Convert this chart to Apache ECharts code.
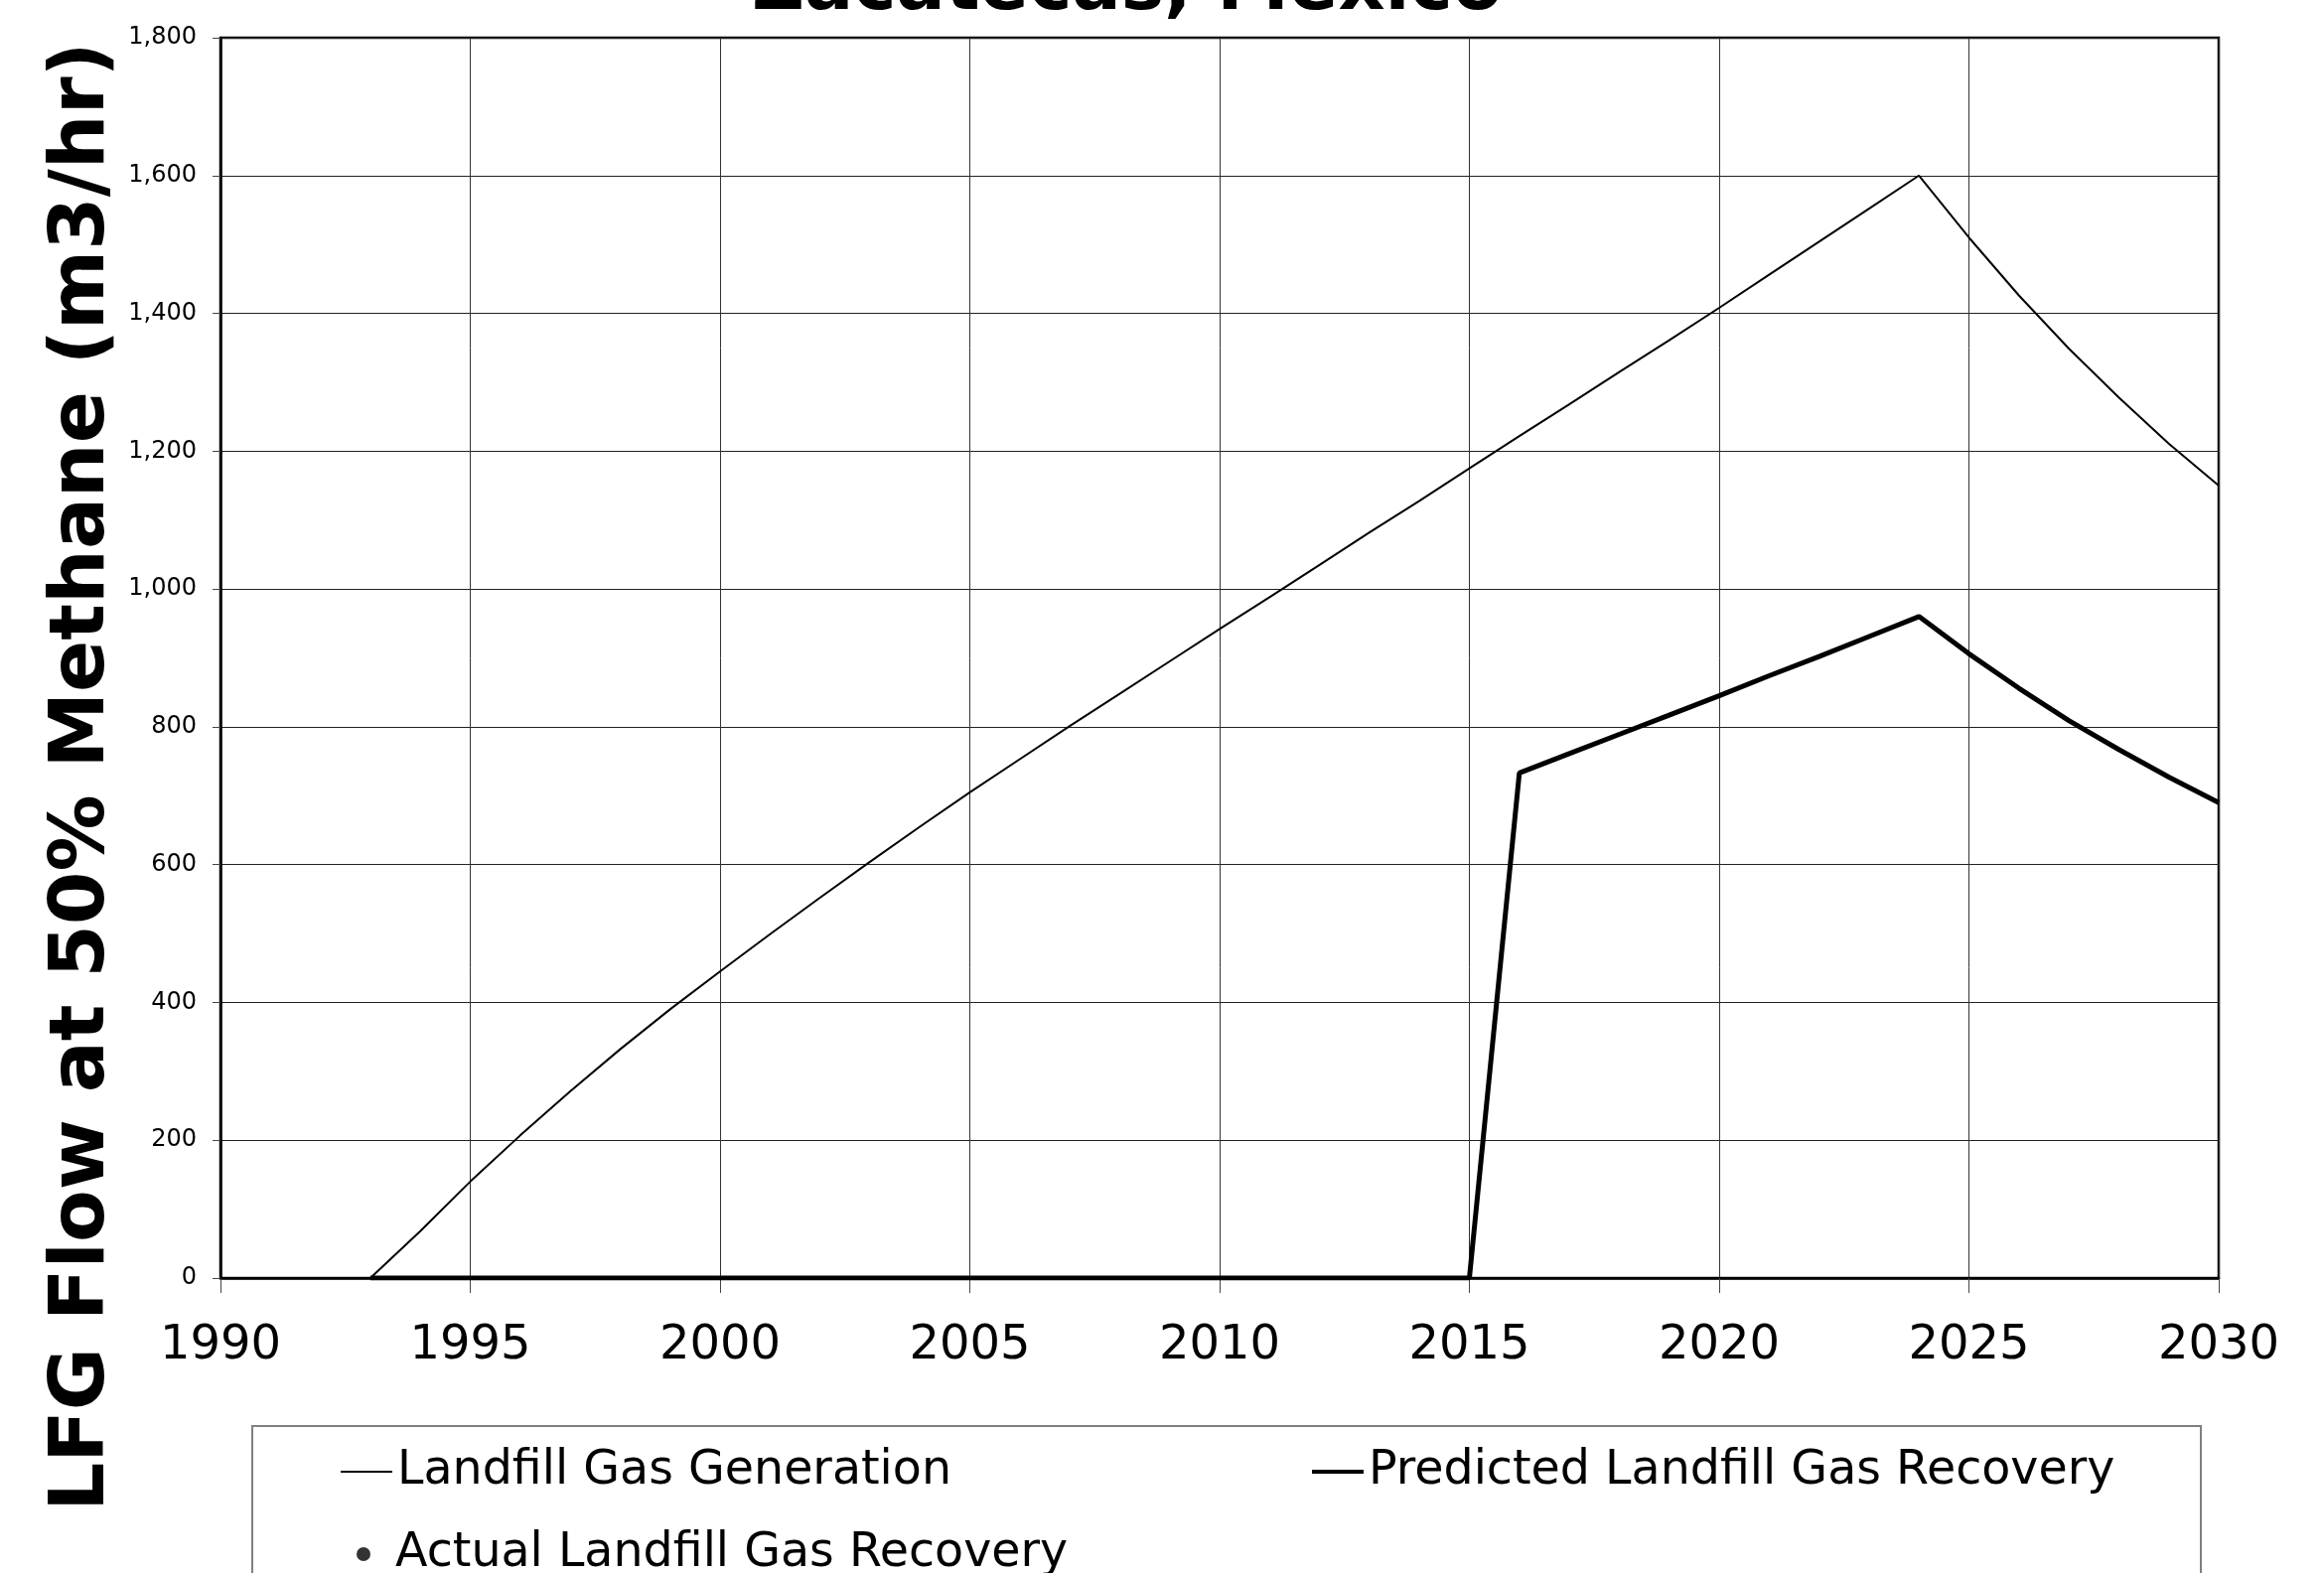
<!DOCTYPE html>
<html lang="en">
<head>
<meta charset="utf-8">
<title>LFG Flow</title>
<script src="https://cdn.jsdelivr.net/npm/echarts@6/dist/echarts.min.js"></script>
<style type="text/css">
	html, body {
		margin: 0;
		padding: 0;
		background: #fff;
	}
	#chart {
		width: 2340px;
		height: 1584px;
	}
</style>
</head>
<body>
<div id="chart"></div>
<script type="text/javascript">
// years on the x axis
var years = [1990, 1991, 1992, 1993, 1994, 1995, 1996, 1997, 1998, 1999,
	2000, 2001, 2002, 2003, 2004, 2005, 2006, 2007, 2008, 2009,
	2010, 2011, 2012, 2013, 2014, 2015, 2016, 2017, 2018, 2019,
	2020, 2021, 2022, 2023, 2024, 2025, 2026, 2027, 2028, 2029, 2030];
// Landfill Gas Generation (m3/hr)
var generation = [0, 0, 0, 0, 68, 140, 207, 271, 332, 390,
	445, 499, 552, 604, 655, 705, 753, 801, 848, 895,
	942, 988, 1035, 1082, 1128, 1175, 1222, 1268, 1315, 1361,
	1408, 1456, 1504, 1552, 1600, 1510, 1426, 1349, 1278, 1211, 1150];
// Predicted Landfill Gas Recovery (m3/hr), starts 1993
var recovery = [null, null, null, 0, 0, 0, 0, 0, 0, 0,
	0, 0, 0, 0, 0, 0, 0, 0, 0, 0,
	0, 0, 0, 0, 0, 0, 733, 761, 789, 817,
	845, 874, 902, 931, 960, 906, 856, 809, 767, 727, 690];
// Actual Landfill Gas Recovery - no measured points shown
var actual = [];

var names = ['Landfill Gas Generation', 'Predicted Landfill Gas Recovery', 'Actual Landfill Gas Recovery'];
var FONT = 'DejaVu Sans, Verdana, sans-serif';

function pairs(xs, ys) {
	var out = [];
	for (var i = 0; i < xs.length; i++) {
		if (ys[i] !== null) out.push([xs[i], ys[i]]);
	}
	return out;
}

var myChart = echarts.init(document.getElementById('chart'), null, {renderer: 'canvas'});

var option = {
	backgroundColor: '#fff',
	animation: false,
	title: {
		text: 'Zacatecas, Mexico',
		left: 757,
		top: -46,
		padding: 0,
		textStyle: {fontFamily: FONT, fontSize: 73, fontWeight: 'bold', color: '#000'}
	},
	grid: {
		left: 222, top: 38, right: 106, bottom: 297,
		show: true, borderColor: '#000', borderWidth: 2.5, backgroundColor: 'transparent'
	},
	xAxis: {
		type: 'value', min: 1990, max: 2030, interval: 5,
		axisLine: {lineStyle: {color: '#000', width: 2.5}},
		axisTick: {show: true, length: 15, lineStyle: {color: '#444', width: 1}},
		axisLabel: {
			margin: 45, color: '#000', fontFamily: FONT, fontSize: 48,
			formatter: function (v) { return String(v); }
		},
		splitLine: {show: true, lineStyle: {color: '#333', width: 1}}
	},
	yAxis: {
		type: 'value', min: 0, max: 1800, interval: 200,
		axisLine: {show: true, lineStyle: {color: '#000', width: 2.5}},
		axisTick: {show: true, length: 8, lineStyle: {color: '#444', width: 1}},
		axisLabel: {margin: 24, color: '#000', fontFamily: FONT, fontSize: 24},
		splitLine: {show: true, lineStyle: {color: '#222', width: 1}}
	},
	graphic: [
		{
			type: 'text',
			x: 84, y: 782,
			rotation: Math.PI / 2,
			style: {
				text: 'LFG Flow at 50% Methane (m3/hr)',
				font: 'bold 77px ' + FONT,
				fill: '#000',
				textAlign: 'center',
				textVerticalAlign: 'middle'
			}
		},
		{
			type: 'rect',
			shape: {x: 254, y: 1436, width: 1962, height: 200},
			style: {fill: 'transparent', stroke: '#808080', lineWidth: 2}
		}
	],
	legend: [
		{
			data: [names[0]], left: 343, top: 1458, padding: 0,
			icon: 'rect', itemWidth: 52, itemHeight: 2,
			textStyle: {fontFamily: FONT, fontSize: 47.5, color: '#000'}
		},
		{
			data: [names[1]], left: 1321, top: 1458, padding: 0,
			icon: 'rect', itemWidth: 52, itemHeight: 4,
			textStyle: {fontFamily: FONT, fontSize: 47.5, color: '#000'}
		},
		{
			data: [names[2]], left: 359, top: 1541, padding: 0,
			icon: 'circle', itemWidth: 14, itemHeight: 14,
			textStyle: {fontFamily: FONT, fontSize: 47.5, color: '#000', padding: [0, 0, 0, 20]}
		}
	],
	series: [
		{
			name: names[0], type: 'line', data: pairs(years, generation),
			showSymbol: false, symbol: 'none',
			lineStyle: {color: '#000', width: 2},
			itemStyle: {color: '#000'}, z: 3
		},
		{
			name: names[1], type: 'line', data: pairs(years, recovery),
			showSymbol: false, symbol: 'none',
			lineStyle: {color: '#000', width: 5},
			itemStyle: {color: '#000'}, z: 4
		},
		{
			name: names[2], type: 'scatter', data: actual,
			symbol: 'circle', symbolSize: 10,
			itemStyle: {color: '#000'}
		}
	]
};

myChart.setOption(option);
</script>
</body>
</html>
